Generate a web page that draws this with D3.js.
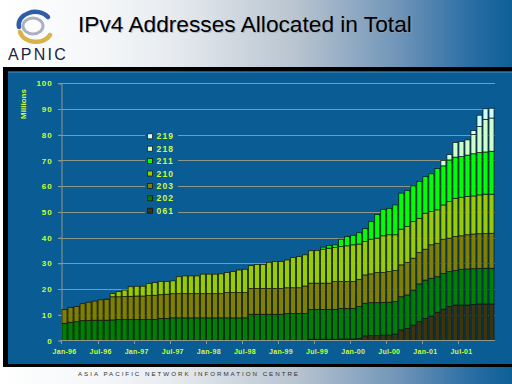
<!DOCTYPE html>
<html>
<head>
<meta charset="utf-8">
<script src="https://cdn.jsdelivr.net/npm/d3@7"></script>
<style>
  html, body { margin: 0; padding: 0; background: #fff; }
  svg { display: block; font-family: "Liberation Sans", Arial, sans-serif; }
</style>
</head>
<body>
<svg id="slide" width="512" height="384"></svg>
<script>
// monthly totals, millions of addresses, Jan-96 .. Dec-01
var keys = ['061', '202', '203', '210', '211', '218', '219'];
var tickLabels = ['Jan-96', 'Jul-96', 'Jan-97', 'Jul-97', 'Jan-98', 'Jul-98',
                  'Jan-99', 'Jul-99', 'Jan-00', 'Jul-00', 'Jan-01', 'Jul-01'];
var yTicks = [0, 10, 20, 30, 40, 50, 60, 70, 80, 90, 100];

var s061 = [0, 0, 0, 0, 0, 0, 0, 0, 0, 0, 0, 0,
            0, 0, 0, 0, 0, 0, 0, 0, 0, 0, 0, 0,
            0, 0, 0, 0, 0, 0, 0, 0, 0, 0, 0, 0,
            0, 0, 0, 0, 0, 0.5, 0.5, 0.5, 0.5, 0.5, 0.6, 0.6,
            0.6, 0.8, 1.8, 2.0, 2.0, 2.1, 2.1, 2.5, 4.1, 4.7, 6.0, 7.3,
            8.6, 9.5, 11.0, 12.2, 13.2, 13.8, 13.8, 13.8, 14.0, 14.2, 14.2, 14.2];
var s202 = [6.7, 7.1, 7.3, 7.7, 7.8, 7.9, 7.9, 7.9, 8.0, 8.1, 8.1, 8.1,
            8.1, 8.1, 8.2, 8.2, 8.6, 8.6, 8.8, 8.8, 8.8, 8.8, 8.8, 8.8,
            8.8, 8.8, 8.8, 8.8, 8.8, 8.8, 8.8, 10.2, 10.2, 10.2, 10.2, 10.2,
            10.2, 10.5, 10.5, 10.5, 10.5, 11.6, 11.6, 11.6, 11.6, 11.6, 11.9, 11.9,
            11.9, 12.4, 12.7, 12.7, 12.7, 12.7, 12.8, 12.6, 12.9, 13.0, 13.6, 14.7,
            14.9, 14.7, 13.8, 13.9, 13.6, 13.4, 13.9, 14.0, 13.9, 13.8, 13.9, 13.9];
var s203 = [5.4, 5.8, 5.9, 6.6, 7.1, 7.4, 7.9, 8.0, 9.0, 8.9, 9.0, 9.1,
            9.2, 9.2, 9.3, 9.4, 9.2, 9.4, 9.4, 9.4, 9.4, 9.4, 9.4, 9.4,
            9.4, 9.4, 9.4, 9.8, 9.8, 9.8, 9.8, 10.0, 10.0, 10.0, 10.0, 10.0,
            10.0, 10.0, 10.0, 10.0, 10.7, 10.2, 10.2, 10.2, 10.2, 10.8, 10.4, 10.4,
            10.4, 10.6, 11.0, 11.2, 11.7, 11.6, 11.9, 12.1, 12.4, 12.6, 12.4, 12.2,
            12.0, 13.0, 13.0, 13.3, 13.0, 13.2, 13.0, 13.3, 13.5, 13.5, 13.5, 13.6];
var s210 = [0, 0, 0, 0, 0, 0, 0, 0.2, 1.2, 2.0, 2.5, 3.7,
            3.8, 3.8, 4.6, 4.9, 5.2, 5.0, 5.0, 6.6, 6.9, 6.9, 6.9, 7.6,
            7.6, 7.6, 7.7, 7.8, 8.2, 8.8, 9.1, 8.9, 9.4, 9.4, 10.2, 10.5,
            10.5, 10.8, 11.7, 12.1, 12.1, 12.6, 12.7, 13.2, 13.6, 13.2, 13.6, 13.9,
            14.3, 13.7, 13.0, 13.5, 13.4, 14.3, 14.3, 13.9, 13.9, 14.0, 14.2, 13.3,
            14.0, 12.9, 13.0, 13.3, 14.2, 14.9, 15.0, 14.9, 14.8, 15.1, 15.3, 15.2];
var s211 = [0, 0, 0, 0, 0, 0, 0, 0, 0, 0, 0, 0,
            0, 0, 0, 0, 0, 0, 0, 0, 0, 0, 0, 0,
            0, 0, 0, 0, 0, 0, 0, 0, 0, 0, 0, 0,
            0, 0, 0, 0, 0, 0, 0, 0.8, 1.0, 1.1, 2.9, 3.6,
            3.7, 4.4, 5.0, 6.8, 9.2, 10.3, 10.3, 11.6, 14.0, 14.0, 13.9, 14.3,
            14.2, 14.7, 16.1, 15.2, 16.2, 16.0, 15.8, 16.1, 16.4, 16.5, 16.4, 16.7];
var s218 = [0, 0, 0, 0, 0, 0, 0, 0, 0, 0, 0, 0,
            0, 0, 0, 0, 0, 0, 0, 0, 0, 0, 0, 0,
            0, 0, 0, 0, 0, 0, 0, 0, 0, 0, 0, 0,
            0, 0, 0, 0, 0, 0, 0, 0, 0, 0, 0, 0,
            0, 0, 0, 0, 0, 0, 0, 0, 0, 0, 0, 0,
            0, 0, 0, 2.1, 2.1, 5.7, 5.9, 5.9, 7.5, 10.1, 12.7, 12.9];
var s219 = [0, 0, 0, 0, 0, 0, 0, 0, 0, 0, 0, 0,
            0, 0, 0, 0, 0, 0, 0, 0, 0, 0, 0, 0,
            0, 0, 0, 0, 0, 0, 0, 0, 0, 0, 0, 0,
            0, 0, 0, 0, 0, 0, 0, 0, 0, 0, 0, 0,
            0, 0, 0, 0, 0, 0, 0, 0, 0, 0, 0, 0,
            0, 0, 0, 0, 0, 0, 0, 0, 1.5, 4.4, 4.1, 3.8];

var colors = {
    '061': '#3b3508', '202': '#008000', '203': '#808000', '210': '#99cc00',
    '211': '#00ff00', '218': '#ccffcc', '219': '#ccffff'
};
var textColor = '#ccff33';
var gridColor = '#8f968c';

var svg = d3.select('#slide');
var defs = svg.append('defs');

// slide background: white on the left fading to blue on the right
var bg = defs.append('linearGradient').attr('id', 'bg')
    .attr('x1', 0).attr('y1', 0).attr('x2', 1).attr('y2', 0);
[[0, '#ffffff'], [0.2, '#f4f6f8'], [0.33, '#e8ecf0'], [0.58, '#b8c4d0'],
 [0.78, '#6f94b8'], [0.92, '#2a6ea4'], [1, '#0d5f98']].forEach(function(s) {
    bg.append('stop').attr('offset', s[0]).attr('stop-color', s[1]);
});
svg.append('rect').attr('width', 512).attr('height', 384).attr('fill', 'url(#bg)');

// logo
var logo = svg.append('g').attr('fill', 'none').attr('stroke-linecap', 'round');
logo.append('path').attr('d', 'M19,27 C16,14 38,6 48,17')
    .attr('stroke', '#2f5ea6').attr('stroke-width', 4.5);
logo.append('ellipse').attr('cx', 33).attr('cy', 26).attr('rx', 10).attr('ry', 8)
    .attr('stroke', '#a9b1c0').attr('stroke-width', 3);
logo.append('path').attr('d', 'M20,32 C24,44 44,45 50,35')
    .attr('stroke', '#d9b24a').attr('stroke-width', 4.5);
svg.append('text').attr('x', 8).attr('y', 60)
    .attr('font-size', 16).attr('letter-spacing', 2.2)
    .attr('fill', '#1b2345').text('APNIC');

// title with soft shadow
svg.append('text').attr('x', 79).attr('y', 33)
    .attr('font-size', 22.7).attr('fill', '#9aa0a8').attr('opacity', 0.6)
    .text('IPv4 Addresses Allocated in Total');
svg.append('text').attr('x', 78).attr('y', 32)
    .attr('font-size', 22.7).attr('fill', '#000')
    .text('IPv4 Addresses Allocated in Total');

// chart panel
svg.append('rect').attr('x', 3).attr('y', 67).attr('width', 520).attr('height', 300)
    .attr('fill', '#000');
svg.append('rect').attr('x', 8).attr('y', 71).attr('width', 510).attr('height', 293)
    .attr('fill', '#0a5c95');
svg.append('line').attr('x1', 8).attr('x2', 512).attr('y1', 72.5).attr('y2', 72.5)
    .attr('stroke', '#2a75aa').attr('stroke-width', 1);

// footer
svg.append('text').attr('x', 78).attr('y', 376)
    .attr('font-size', 6.2).attr('fill', '#333')
    .attr('textLength', 220).attr('lengthAdjust', 'spacing')
    .text('ASIA PACIFIC NETWORK INFORMATION CENTRE');

// data table
var months = d3.timeMonth.range(new Date(1996, 0, 1), new Date(2002, 0, 1));
var fmt = d3.timeFormat('%b-%y');
var series = { '061': s061, '202': s202, '203': s203, '210': s210, '211': s211, '218': s218, '219': s219 };
var table = months.map(function(m, i) {
    var row = { month: fmt(m) };
    keys.forEach(function(k) { row[k] = series[k][i]; });
    return row;
});

var x = d3.scaleBand()
    .domain(table.map(function(d) { return d.month; }))
    .range([62, 494])
    .paddingInner(0.17)
    .paddingOuter(0);

var y = d3.scaleLinear().domain([0, 100]).range([340.5, 83.3]);

var chart = svg.append('g');

// grid
chart.selectAll('line.grid')
    .data(yTicks.filter(function(t) { return t > 0; }))
    .enter().append('line')
    .attr('class', 'grid')
    .attr('x1', 58).attr('x2', 495)
    .attr('y1', function(d) { return Math.round(y(d)) + 0.5; })
    .attr('y2', function(d) { return Math.round(y(d)) + 0.5; })
    .attr('stroke', gridColor).attr('stroke-width', 1);

// y axis
var yAxis = d3.axisLeft(y).tickValues(yTicks).tickSize(3).tickPadding(6);
var gy = chart.append('g').attr('transform', 'translate(61.5,0)').call(yAxis);
gy.select('.domain').attr('stroke', gridColor);
gy.selectAll('.tick line').attr('stroke', gridColor);
gy.selectAll('.tick text')
    .attr('fill', textColor).attr('font-size', 8).attr('font-weight', 'bold')
    .attr('letter-spacing', 0.9).attr('font-family', '"Liberation Sans", Arial, sans-serif');

chart.append('text')
    .attr('transform', 'translate(26,104) rotate(-90)')
    .attr('text-anchor', 'middle')
    .attr('font-size', 8).attr('font-weight', 'bold')
    .attr('fill', textColor).text('Millions');

// stacked bars
var stack = d3.stack().keys(keys);
var layers = chart.selectAll('g.layer')
    .data(stack(table))
    .enter().append('g')
    .attr('class', 'layer')
    .attr('fill', function(d) { return colors[d.key]; });

layers.selectAll('rect')
    .data(function(d) { return d.filter(function(p) { return p[1] - p[0] > 0; }); })
    .enter().append('rect')
    .attr('x', function(d) { return x(d.data.month); })
    .attr('width', x.bandwidth())
    .attr('y', function(d) { return y(d[1]); })
    .attr('height', function(d) { return y(d[0]) - y(d[1]); })
    .attr('stroke', '#101010').attr('stroke-width', 0.7);

// x axis
var xAxis = d3.axisBottom(x)
    .tickValues(tickLabels)
    .tickSize(0).tickPadding(9);
var gx = chart.append('g').attr('transform', 'translate(0,340.5)').call(xAxis);
gx.select('.domain').remove();
gx.selectAll('.tick text')
    .attr('fill', textColor).attr('font-size', 7).attr('font-weight', 'bold')
    .attr('letter-spacing', 0.3).attr('font-family', '"Liberation Sans", Arial, sans-serif');

chart.append('line').attr('x1', 61).attr('x2', 495).attr('y1', 340.5).attr('y2', 340.5)
    .attr('stroke', gridColor);
chart.selectAll('line.xtick')
    .data(tickLabels)
    .enter().append('line')
    .attr('class', 'xtick')
    .attr('x1', function(d) { return Math.round(x(d) - x.step() * x.paddingInner() / 2) + 0.5; })
    .attr('x2', function(d) { return Math.round(x(d) - x.step() * x.paddingInner() / 2) + 0.5; })
    .attr('y1', 340.5).attr('y2', 344)
    .attr('stroke', gridColor);

// legend, top entry is the last series
var legend = chart.append('g').attr('transform', 'translate(145,130)');
legend.append('rect').attr('width', 33).attr('height', 87).attr('fill', '#0a5c95');
var items = legend.selectAll('g.item')
    .data(keys.slice().reverse())
    .enter().append('g')
    .attr('class', 'item')
    .attr('transform', function(d, i) { return 'translate(0,' + (6.3 + i * 12.4) + ')'; });
items.append('rect')
    .attr('x', 2.5).attr('y', -2.5).attr('width', 5).attr('height', 5)
    .attr('fill', function(d) { return colors[d]; })
    .attr('stroke', '#101010').attr('stroke-width', 0.7);
items.append('text')
    .attr('x', 11.5).attr('y', 3)
    .attr('font-size', 8.5).attr('font-weight', 'bold').attr('letter-spacing', 1.2)
    .attr('fill', textColor)
    .text(function(d) { return d; });
</script>
</body>
</html>
